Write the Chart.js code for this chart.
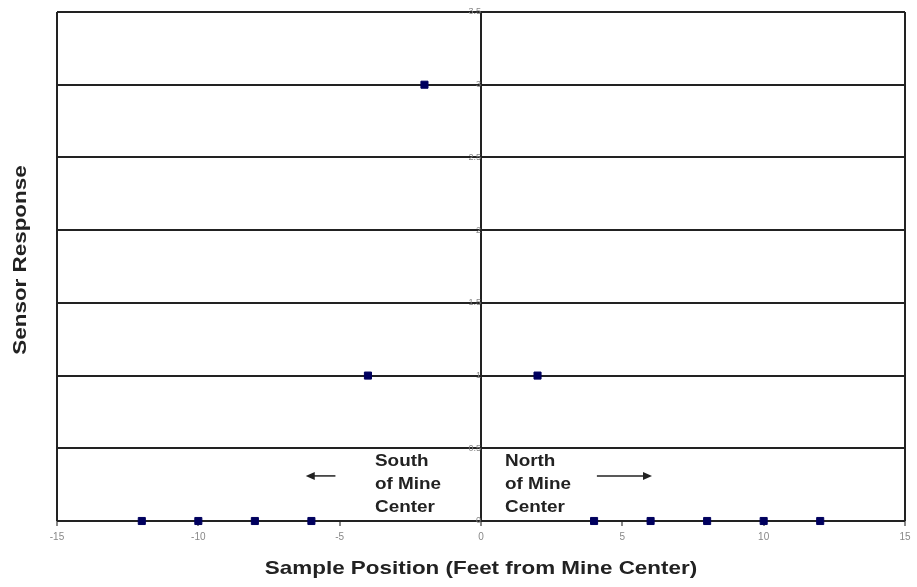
<!DOCTYPE html>
<html>
<head>
<meta charset="utf-8">
<script src="https://cdn.jsdelivr.net/npm/chart.js@4/dist/chart.umd.min.js"></script>
<style>
  html, body { margin: 0; padding: 0; background: #fff; }
  #c { display: block; }
</style>
</head>
<body>
<canvas id="c" width="917" height="587"></canvas>
<script>
// sample positions (feet from mine center) and sensor response
const positions = [-12, -10, -8, -6, -4, -2, 2, 4, 6, 8, 10, 12];
const responses = [0, 0, 0, 0, 1, 3, 1, 0, 0, 0, 0, 0];

const xTitle = 'Sample Position (Feet from Mine Center)';
const yTitle = 'Sensor Response';
const southLabel = ['South', 'of Mine', 'Center'];
const northLabel = ['North', 'of Mine', 'Center'];

const FONT = '"Liberation Sans", Arial, sans-serif';
const STRETCH = 1.18; // the original text is a bit wide

// draw text a bit wider than the font, like the picture
function wideText(ctx, text, x, y, align) {
  ctx.save();
  ctx.translate(x, y);
  ctx.scale(STRETCH, 1);
  ctx.textAlign = align;
  ctx.fillText(text, 0, 0);
  ctx.restore();
}

// notes, arrows and axis titles, placed with the chart scales
const notes = {
  id: 'notes',
  afterDraw(chart) {
    const { ctx, scales: { x, y } } = chart;
    ctx.save();
    ctx.fillStyle = '#222';
    ctx.strokeStyle = '#222';
    ctx.textBaseline = 'middle';

    ctx.font = 'bold 16px ' + FONT;
    const top = y.getPixelForValue(0.41);
    southLabel.forEach((t, i) => wideText(ctx, t, x.getPixelForValue(-3.75), top + i * 23, 'left'));
    northLabel.forEach((t, i) => wideText(ctx, t, x.getPixelForValue(0.85), top + i * 23, 'left'));

    const ay = y.getPixelForValue(0.31);
    const arrow = (from, to) => {
      const x0 = x.getPixelForValue(from), x1 = x.getPixelForValue(to);
      const d = Math.sign(x1 - x0);
      ctx.lineWidth = 1.5;
      ctx.beginPath();
      ctx.moveTo(x0, ay);
      ctx.lineTo(x1 - d * 6, ay);
      ctx.stroke();
      ctx.beginPath();
      ctx.moveTo(x1, ay);
      ctx.lineTo(x1 - d * 9, ay - 4);
      ctx.lineTo(x1 - d * 9, ay + 4);
      ctx.closePath();
      ctx.fill();
    };
    arrow(-5.15, -6.2);
    arrow(4.1, 6.05);

    // axis titles
    ctx.font = 'bold 19px ' + FONT;
    wideText(ctx, xTitle, (x.left + x.right) / 2, 569, 'center');

    ctx.translate(21, 260);
    ctx.rotate(-Math.PI / 2);
    wideText(ctx, yTitle, 0, 0, 'center');
    ctx.restore();
  }
};

new Chart(document.getElementById('c'), {
  type: 'scatter',
  data: {
    datasets: [{
      data: positions.map((p, i) => ({ x: p, y: responses[i] })),
      pointStyle: 'rect',
      pointRadius: 5,
      pointHoverRadius: 5,
      backgroundColor: '#00005e',
      borderColor: '#00005e',
      borderWidth: 1,
      clip: false
    }]
  },
  options: {
    responsive: false,
    animation: false,
    layout: { padding: { left: 57, right: 12, top: 12, bottom: 0 } },
    plugins: { legend: { display: false }, tooltip: { enabled: false } },
    scales: {
      x: {
        type: 'linear',
        min: -15,
        max: 15,
        afterFit(axis) { axis.height = 66; },
        ticks: {
          stepSize: 5,
          color: '#888',
          font: { size: 10, family: FONT },
          padding: 5
        },
        grid: {
          color: c => [-15, 0, 15].includes(c.tick.value) ? '#222' : 'transparent',
          tickColor: '#888',
          tickLength: 5,
          lineWidth: 2
        },
        border: { display: false }
      },
      y: {
        type: 'linear',
        position: { x: 0 },
        min: 0,
        max: 3.5,
        ticks: {
          stepSize: 0.5,
          color: '#888',
          font: { size: 9, family: FONT },
          padding: 3,
          callback: v => String(v)
        },
        grid: { color: '#222', lineWidth: 2, drawTicks: false },
        border: { display: false }
      }
    }
  },
  plugins: [notes]
});
</script>
</body>
</html>
